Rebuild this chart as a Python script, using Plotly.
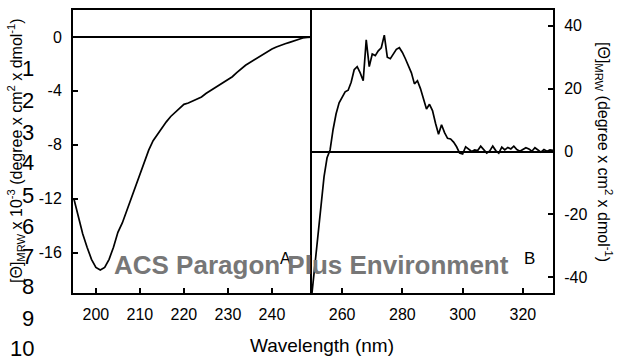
import plotly.graph_objects as go

# Far-UV CD spectrum (panel A), mean residue ellipticity x 10^-3
wl_far = list(range(195, 250))
theta_far = [
    -12.0, -13.3, -14.6, -15.6, -16.5, -17.1, -17.3, -17.1, -16.5, -15.6,
    -14.5, -13.8, -12.9, -12.0, -11.0, -10.2, -9.3, -8.4, -7.7, -7.2,
    -6.7, -6.3, -5.9, -5.6, -5.3, -5.0, -4.9, -4.75, -4.6, -4.45,
    -4.2, -4.0, -3.75, -3.55, -3.35, -3.15, -2.95, -2.65, -2.35, -2.1,
    -1.9, -1.7, -1.5, -1.3, -1.05, -0.9, -0.75, -0.6, -0.5, -0.4,
    -0.28, -0.18, -0.08, -0.04, -0.02,
]

# Near-UV CD spectrum (panel B), mean residue ellipticity
wl_near = list(range(250, 331))
theta_near = [
    -45, -36, -26, -17, -8, -2, 0.5, 7, 12, 15.5,
    17.5, 19, 19.5, 22, 26, 27, 25, 22.5, 35.5, 27,
    31, 30.5, 32, 33, 37, 30, 29.5, 31, 32.5, 33,
    31.5, 29.5, 27.5, 25, 21.5, 22.5, 20, 17, 13.5, 15,
    13, 9, 5.5, 8.5, 6, 4.2, 4, 3, 1.5, -0.5,
    -0.8, 1.5, 0.8, 0, 0.5, 0.3, 1.7, 0.5, -0.5, 0.2,
    1.7, 0.3, -0.5, 1.4, 0.5, 1.3, 0.8, 1.7, 0.6, 0.1,
    0.6, 1.2, 0.8, 0.1, 1.2, 0.4, -0.2, 0.6, 0.1, 0.5,
    0.4,
]

far_ticks = [200, 210, 220, 230, 240]
near_ticks = [260, 280, 300, 320]
far_yticks = [-16, -12, -8, -4, 0]
near_yticks = [-40, -20, 0, 20, 40]

# manuscript line numbers down the left margin
line_numbers = [str(i) for i in range(1, 11)]
line_number_y = [68, 100, 132, 163, 195, 226, 256, 286, 318, 348]

W, H = 620, 360
FONT = "Liberation Sans, Arial, sans-serif"


def px(x):
    return x / W


def py(y):
    return 1 - y / H


fig = go.Figure()
fig.add_trace(go.Scatter(x=wl_far, y=theta_far, mode="lines",
                         line=dict(color="black", width=1.7),
                         xaxis="x", yaxis="y", showlegend=False))
fig.add_trace(go.Scatter(x=wl_near, y=theta_near, mode="lines",
                         line=dict(color="black", width=1.7),
                         xaxis="x2", yaxis="y2", showlegend=False))

axis_common = dict(showline=True, linecolor="black", linewidth=2,
                   ticks="inside", ticklen=5, tickwidth=1.5, tickcolor="black",
                   showgrid=False, ticklabelstandoff=6,
                   tickfont=dict(family=FONT, size=16, color="black"))


def tick_text(vals):
    # plain hyphen-minus for negative labels
    return [str(v) for v in vals]


x_left, x_mid, x_right = 73, 312, 553
y_top, y_bot = 10, 293

fig.update_layout(
    width=W, height=H,
    margin=dict(l=0, r=0, t=0, b=0),
    paper_bgcolor="white", plot_bgcolor="white",
    xaxis=dict(domain=[px(x_left), px(x_mid)], range=[194.8, 249.1],
               tickvals=far_ticks, ticktext=tick_text(far_ticks),
               anchor="y", zeroline=False, mirror=True, **axis_common),
    yaxis=dict(domain=[py(y_bot), py(y_top)], range=[-19, 2],
               tickvals=far_yticks, ticktext=tick_text(far_yticks),
               anchor="x", zeroline=True, mirror=False,
               zerolinecolor="black", zerolinewidth=1.5, **axis_common),
    xaxis2=dict(domain=[px(x_mid), px(x_right)], range=[250, 330],
                tickvals=near_ticks, ticktext=tick_text(near_ticks),
                anchor="y2", zeroline=False, mirror=True, **axis_common),
    yaxis2=dict(domain=[py(y_bot), py(y_top)], range=[-45, 45],
                tickvals=near_yticks, ticktext=tick_text(near_yticks),
                anchor="x2", side="right", mirror=True,
                zeroline=True, zerolinecolor="black", zerolinewidth=1.5,
                **axis_common),
)


def label(x, y, text, size, color="black", angle=0, xanchor="center"):
    return dict(x=px(x), y=py(y), xref="paper", yref="paper",
                xanchor=xanchor, yanchor="middle", text=text,
                textangle=angle, showarrow=False,
                font=dict(family=FONT, size=size, color=color))


annotations = [
    label(322, 345, "Wavelength (nm)", 19),
    label(16, 151,
          "[Θ]<sub>MRW</sub> x 10<sup>-3</sup> (degree x cm<sup>2</sup> x dmol<sup>-1</sup>)",
          16, angle=-90),
    label(604, 152,
          "[Θ]<sub>MRW</sub> (degree x cm<sup>2</sup> x dmol<sup>-1</sup>)",
          16, angle=90),
    label(285, 258, "A", 16),
    label(529, 258, "B", 17),
    label(311, 265, "<b>ACS Paragon Plus Environment</b>", 26, color="#777777"),
]
for num, ypix in zip(line_numbers, line_number_y):
    annotations.append(label(36, ypix, num, 22, xanchor="right"))

fig.update_layout(annotations=annotations)
fig.write_html("out.html")
